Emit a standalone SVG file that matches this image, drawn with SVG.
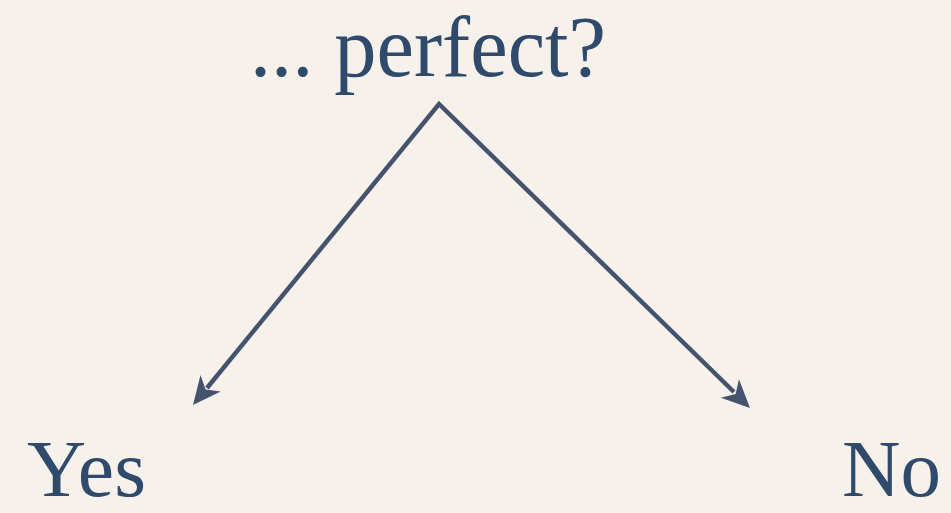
<svg xmlns="http://www.w3.org/2000/svg" width="951" height="513" viewBox="0 0 951 513">
<style>
.t{font-family:"Liberation Serif","DejaVu Serif",serif;fill:#2f4a6a}
.c{stroke:#45536e;stroke-width:4.5;fill:none;stroke-linejoin:miter}
.h{fill:#45536e}
</style>
<rect width="951" height="513" fill="#f6f2eb"/>
<g id="question"><text class="t" x="250" y="76" font-size="86" textLength="356" lengthAdjust="spacingAndGlyphs">... perfect?</text></g>
<g id="yes"><text class="t" x="27" y="496" font-size="80" textLength="119" lengthAdjust="spacingAndGlyphs">Yes</text></g>
<g id="no"><text class="t" x="842" y="496" font-size="80" textLength="99" lengthAdjust="spacingAndGlyphs">No</text></g>
<g id="connectors">
<path class="c" d="M207,388 L439,104 L734,392"/>
<polygon class="h" points="193,405 200.52,375.06 205.59,389.46 220.72,391.42"/>
<polygon class="h" points="750,408 720.85,397.82 735.65,394.07 738.97,379.16"/>
</g>
</svg>
